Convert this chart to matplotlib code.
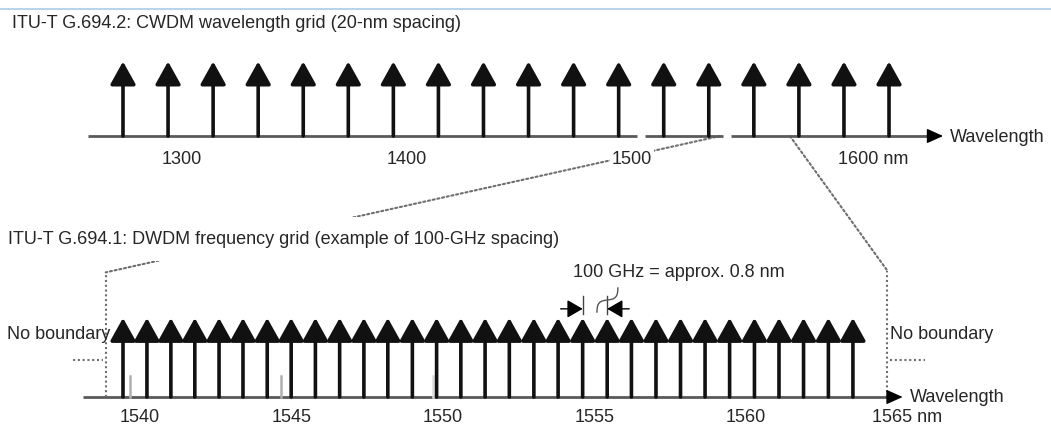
import numpy as np
import matplotlib
matplotlib.use('Agg')
import matplotlib.pyplot as plt
import matplotlib.transforms as mtransforms
from matplotlib.patches import ConnectionPatch
from matplotlib.lines import Line2D

plt.rcParams['font.family'] = ['Liberation Sans', 'DejaVu Sans']

# CWDM grid (ITU-T G.694.2), nm
cwdm_nm = [1271, 1291, 1311, 1331, 1351, 1371, 1391, 1411, 1431,
           1451, 1471, 1491, 1511, 1531, 1551, 1571, 1591, 1611]
cwdm_ticks = [1300, 1400, 1500, 1600]
cwdm_ticklabels = ['1300', '1400', '1500', '1600 nm']

# DWDM grid (ITU-T G.694.1, 100 GHz), nm
dwdm_nm = [1539.77, 1540.56, 1541.35, 1542.14, 1542.94, 1543.73, 1544.53,
           1545.32, 1546.12, 1546.92, 1547.72, 1548.51, 1549.32, 1550.12,
           1550.92, 1551.72, 1552.52, 1553.33, 1554.13, 1554.94, 1555.75,
           1556.55, 1557.36, 1558.17, 1558.98, 1559.79, 1560.61, 1561.42,
           1562.23, 1563.05, 1563.86]
dwdm_ticks = [1540, 1545, 1550, 1555, 1560, 1565]
dwdm_ticklabels = ['1540', '1545', '1550', '1555', '1560', '1565 nm']
dwdm_marks = [1540, 1545, 1550]

# zoom window: where it leaves the top grid, where it lands on the bottom one
zoom_top = [1536, 1567]
zoom_bottom = [1539.2, 1565.0]
pair = [19, 20]   # channels used for the 100 GHz spacing marker

txt = '#262626'
fs = 13
dot = dict(color='#6e6e6e', lw=1.5, ls=(0, (1.0, 1.3)))

fig = plt.figure(figsize=(10.51, 4.27), dpi=100)

# top: 2.253 px per nm, 73 px per arrow height
ax1 = fig.add_axes([0, 290/427, 1, 117/427])
ax1.set_xlim(1271 - 123/2.253, 1271 + 928/2.253)
ax1.set_ylim(0, 117/73)
# bottom: 30.3 px per nm, 76 px per arrow height
ax2 = fig.add_axes([0, 29/427, 1, 208/427])
ax2.set_xlim(1539.77 - 123/30.3, 1539.77 + 928/30.3)
ax2.set_ylim(0, 208/76)

for ax in (ax1, ax2):
    ax.patch.set_visible(False)
    for s in ax.spines.values():
        s.set_visible(False)
    ax.set_yticks([])
    ax.tick_params(axis='x', length=0, labelsize=fs, labelcolor=txt)
ax1.set_zorder(2)

arrow = dict(arrowstyle='-|>,head_length=1.4,head_width=0.78', mutation_scale=10,
             lw=2.6, color='#111111', shrinkA=0, shrinkB=0)

# CWDM channels
for w in cwdm_nm:
    ax1.annotate('', xy=(w, 1.02), xytext=(w, 0), arrowprops=arrow, annotation_clip=False)
for a, b in [(1255.5, 1499.1), (1502.7, 1537.3), (1540.9, 1629.2)]:
    ax1.plot([a, b], [0, 0], color='#5a5a5a', lw=2, clip_on=False, solid_capstyle='butt')
ax1.annotate('', xy=(1635.0, 0), xytext=(1628.0, 0), annotation_clip=False,
             arrowprops=dict(arrowstyle='-|>,head_length=1.0,head_width=0.45',
                             mutation_scale=10, lw=1, color='black', shrinkA=0, shrinkB=0))
ax1.text(1638.1, 0, 'Wavelength', fontsize=fs, color=txt, va='center', ha='left')
ax1.set_xticks(cwdm_ticks)
ax1.set_xticklabels(cwdm_ticklabels)
ax1.tick_params(axis='x', pad=10)
for i, lbl in enumerate(ax1.get_xticklabels()):
    dx = -7
    if i == len(cwdm_ticks) - 1:
        lbl.set_ha('left')
        dx = -26
    lbl.set_transform(lbl.get_transform() + mtransforms.ScaledTranslation(dx/100, 0, fig.dpi_scale_trans))
    lbl.set_bbox(dict(facecolor='white', edgecolor='none', pad=1))

# DWDM channels
for w in dwdm_nm:
    ax2.annotate('', xy=(w, 1.04), xytext=(w, 0), arrowprops=arrow, annotation_clip=False)
ax2.plot([1538.45, 1565.0], [0, 0], color='#5a5a5a', lw=2, clip_on=False, solid_capstyle='butt')
ax2.annotate('', xy=(1565.5, 0), xytext=(1565.0, 0), annotation_clip=False,
             arrowprops=dict(arrowstyle='-|>,head_length=1.0,head_width=0.45',
                             mutation_scale=10, lw=1, color='black', shrinkA=0, shrinkB=0))
ax2.text(1565.74, 0, 'Wavelength', fontsize=fs, color=txt, va='center', ha='left')
for m, c in zip(dwdm_marks, ['#b0b0b0', '#b0b0b0', '#dddddd']):
    ax2.plot([m, m], [0, 0.28], color=c, lw=1.8, clip_on=False)
ax2.set_xticks(dwdm_ticks)
ax2.set_xticklabels(dwdm_ticklabels)
ax2.tick_params(axis='x', pad=8)
for i, lbl in enumerate(ax2.get_xticklabels()):
    dx = 10
    if i == len(dwdm_ticks) - 1:
        lbl.set_ha('left')
        dx = -15
    lbl.set_transform(lbl.get_transform() + mtransforms.ScaledTranslation(dx/100, 0, fig.dpi_scale_trans))

# 100 GHz spacing marker
w1, w2 = dwdm_nm[pair[0]], dwdm_nm[pair[1]]
for w in (w1, w2):
    ax2.plot([w, w], [1.09, 1.33], color='#444444', lw=1, clip_on=False)
small = dict(arrowstyle='-|>,head_length=0.95,head_width=0.55', mutation_scale=10,
             lw=1, color='black', shrinkA=0, shrinkB=0)
ax2.annotate('', xy=(w1, 1.16), xytext=(w1 - 22/30.3, 1.16), arrowprops=small, annotation_clip=False)
ax2.annotate('', xy=(w2, 1.16), xytext=(w2 + 22/30.3, 1.16), arrowprops=small, annotation_clip=False)
t = np.linspace(0, 1, 40)
sx = 2 + 21*t - 3*np.sin(2*np.pi*t)
sy = 9 + 24*t + 3*np.sin(2*np.pi*t)
ax2.plot((w1 + w2)/2 + sx/30.3, 1.0 + sy/76, color='#555555', lw=1, clip_on=False)
ax2.text(1554.62, 1.645, '100 GHz = approx. 0.8 nm', fontsize=fs, color=txt,
         va='center', ha='left')

# no boundary markers
ax2.plot([zoom_bottom[0], zoom_bottom[0]], [0, 1.64], clip_on=False, **dot)
ax2.plot([zoom_bottom[1], zoom_bottom[1]], [0, 1.66], clip_on=False, **dot)
ax2.plot([1538.12, 1539.11], [0.487, 0.487], clip_on=False, **dot)
ax2.plot([1565.08, 1566.24], [0.487, 0.487], clip_on=False, **dot)
fig.text(7/1051, 1 - 335/427, 'No boundary', fontsize=fs, color=txt, va='center', ha='left')
fig.text(890/1051, 1 - 335/427, 'No boundary', fontsize=fs, color=txt, va='center', ha='left')

# zoom connectors from CWDM to DWDM grid
for a, b, yb in [(zoom_top[0], zoom_bottom[0], 1.64), (zoom_top[1], zoom_bottom[1], 1.66)]:
    cp = ConnectionPatch(xyA=(a, 0), coordsA=ax1.transData, xyB=(b, yb), coordsB=ax2.transData,
                         zorder=1, **dot)
    fig.add_artist(cp)

# titles
fig.text(12/1051, 1 - 23/427, 'ITU-T G.694.2: CWDM wavelength grid (20-nm spacing)',
         fontsize=fs, color=txt, va='center', ha='left')
fig.text(8/1051, 1 - 240/427, 'ITU-T G.694.1: DWDM frequency grid (example of 100-GHz spacing)',
         fontsize=fs, color=txt, va='center', ha='left',
         bbox=dict(boxstyle='square,pad=0.75', facecolor='white', edgecolor='none'))

fig.add_artist(Line2D([0, 1], [1 - 10/427, 1 - 10/427], transform=fig.transFigure,
                      color='#b9d3ea', lw=1.5))

fig.savefig('out.png', dpi=100)
